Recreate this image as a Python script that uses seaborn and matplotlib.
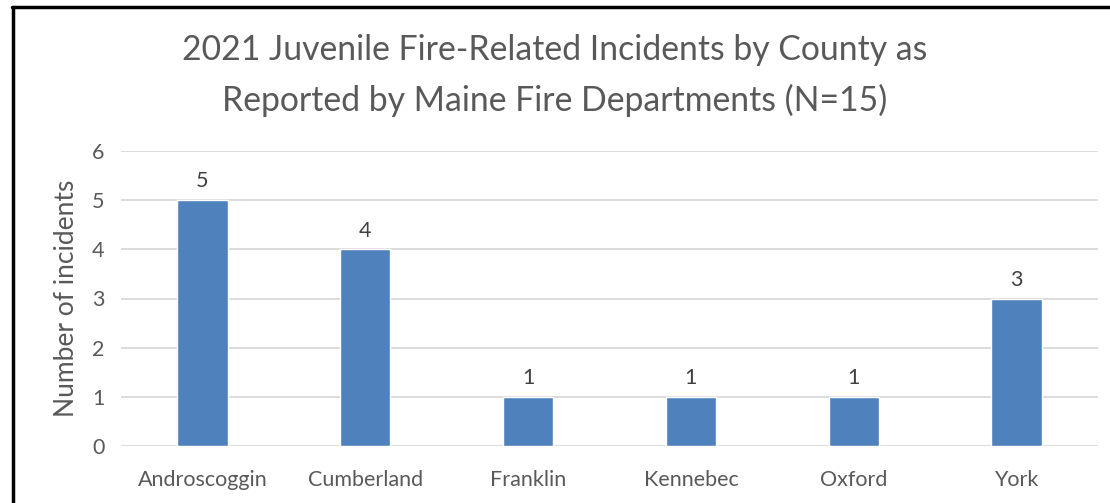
import matplotlib
matplotlib.use("Agg")
import matplotlib.pyplot as plt
from matplotlib.lines import Line2D
import seaborn as sns
import pandas as pd

# data
counties = ["Androscoggin", "Cumberland", "Franklin", "Kennebec", "Oxford", "York"]
incidents = [5, 4, 1, 1, 1, 3]

df = pd.DataFrame({"county": counties, "incidents": incidents})

sns.set_style("white")
plt.rcParams["font.family"] = ["Lato", "DejaVu Sans"]

grey = "#595959"
fig = plt.figure(figsize=(11.1, 5.03), dpi=100)
ax = fig.add_axes([121 / 1110, 1 - 446 / 503, (1098 - 121) / 1110, (446 - 151) / 503])

sns.barplot(data=df, x="county", y="incidents", color="#4F81BD", width=0.31,
            saturation=1, ax=ax, zorder=3)

ax.set_ylim(0, 6)
ax.set_yticks(range(0, 7))
ax.set_xlim(-0.5, len(counties) - 0.5)
ax.yaxis.grid(True, color="#D9D9D9", linewidth=1.3, zorder=0)
ax.set_axisbelow(True)
for s in ax.spines.values():
    s.set_visible(False)
ax.tick_params(axis="both", length=0, labelsize=15.5, colors=grey)
ax.tick_params(axis="x", pad=17)
ax.tick_params(axis="y", pad=12)
ax.set_xlabel("")
ax.set_ylabel("Number of incidents", fontsize=19, color=grey, labelpad=9)

# value labels above bars
for i, v in enumerate(incidents):
    ax.text(i, v + 0.38, str(v), ha="center", va="center", fontsize=15.5, color="#404040")

fig.text(0.5, 1 - 50 / 503, "2021 Juvenile Fire-Related Incidents by County as",
         ha="center", va="center", fontsize=24.3, color=grey)
fig.text(0.5, 1 - 100 / 503, "Reported by Maine Fire Departments (N=15)",
         ha="center", va="center", fontsize=24.3, color=grey)

# black frame on the left and top edges
fig.add_artist(Line2D([13 / 1110, 13 / 1110], [0, 1 - 7 / 503], color="black", linewidth=2.5))
fig.add_artist(Line2D([12 / 1110, 1], [1 - 7 / 503, 1 - 7 / 503], color="black", linewidth=2.5))

fig.savefig("out.png", dpi=100, facecolor="white")
